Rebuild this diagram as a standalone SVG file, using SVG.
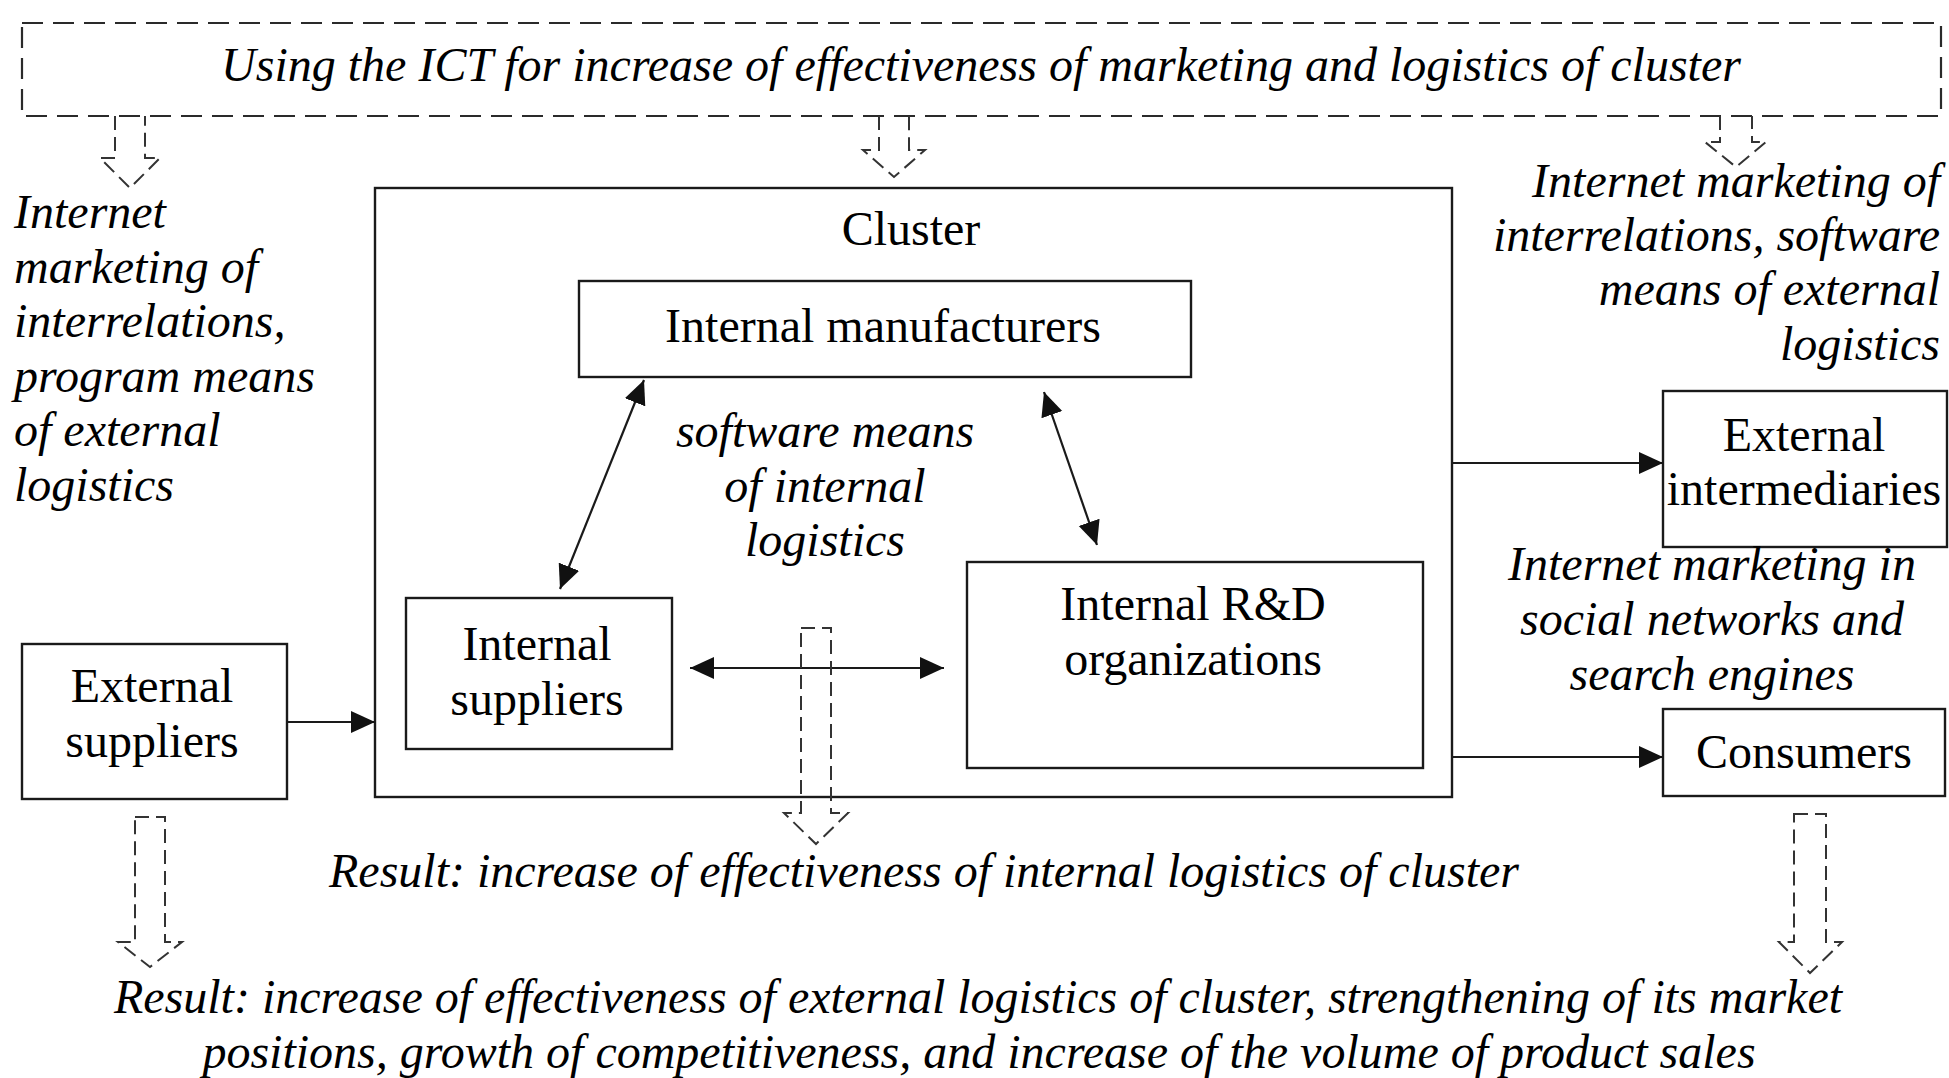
<svg xmlns="http://www.w3.org/2000/svg" width="1949" height="1078" viewBox="0 0 1949 1078">
  <style>
    .box { fill: #fff; stroke: #1a1a1a; stroke-width: 2.4; }
    .frame { fill: none; stroke: #1a1a1a; stroke-width: 2.4; }
    .dbox { fill: none; stroke: #2a2a2a; stroke-width: 2.2; stroke-dasharray: 21 10; }
    .dash-arrow { fill: none; stroke: #333; stroke-width: 2; stroke-dasharray: 14 7; stroke-linejoin: miter; }
    .link { fill: none; stroke: #1a1a1a; stroke-width: 2.2; }
    .up { font-family: "Liberation Serif", "Times New Roman", serif; font-size: 48px; fill: #000; }
    .it { font-family: "Liberation Serif", "Times New Roman", serif; font-size: 48px; font-style: italic; fill: #000; }
    .mid { text-anchor: middle; }
    .end { text-anchor: end; }
  </style>
  <defs>
    <marker id="head" markerUnits="userSpaceOnUse" markerWidth="24" markerHeight="24" refX="24" refY="12" orient="auto-start-reverse">
      <path d="M0,1 L24,12 L0,23 Z" fill="#111"/>
    </marker>
  </defs>

  <rect width="1949" height="1078" fill="#fff"/>

  <!-- ICT banner -->
  <g id="ict-banner">
    <rect class="dbox" x="22" y="23" width="1919" height="93"/>
    <text class="it mid" x="981" y="81">Using the ICT for increase of effectiveness of marketing and logistics of cluster</text>
  </g>

  <!-- cluster frame -->
  <g id="cluster">
    <rect class="frame" x="375" y="188" width="1077" height="609"/>
    <text class="up mid" x="911" y="245">Cluster</text>
  </g>

  <g id="internal-manufacturers">
    <rect class="box" x="579" y="281" width="612" height="96"/>
    <text class="up mid" x="883" y="342">Internal manufacturers</text>
  </g>

  <g id="internal-suppliers">
    <rect class="box" x="406" y="598" width="266" height="151"/>
    <text class="up mid" x="537" y="660">Internal</text>
    <text class="up mid" x="537" y="715">suppliers</text>
  </g>

  <g id="internal-rd">
    <rect class="box" x="967" y="562" width="456" height="206"/>
    <text class="up mid" x="1193" y="620">Internal R&amp;D</text>
    <text class="up mid" x="1193" y="675">organizations</text>
  </g>

  <g id="external-suppliers">
    <rect class="box" x="22" y="644" width="265" height="155"/>
    <text class="up mid" x="152" y="702">External</text>
    <text class="up mid" x="152" y="757">suppliers</text>
  </g>

  <g id="external-intermediaries">
    <rect class="box" x="1663" y="391" width="284" height="156"/>
    <text class="up mid" x="1804" y="451">External</text>
    <text class="up mid" x="1804" y="505">intermediaries</text>
  </g>

  <g id="consumers">
    <rect class="box" x="1663" y="709" width="282" height="87"/>
    <text class="up mid" x="1804" y="768">Consumers</text>
  </g>

  <!-- annotations -->
  <g id="note-left">
    <text class="it" x="14" y="228">Internet</text>
    <text class="it" x="14" y="283">marketing of</text>
    <text class="it" x="14" y="337">interrelations,</text>
    <text class="it" x="14" y="392">program means</text>
    <text class="it" x="14" y="446">of external</text>
    <text class="it" x="14" y="501">logistics</text>
  </g>

  <g id="note-right">
    <text class="it end" x="1940" y="197">Internet marketing of</text>
    <text class="it end" x="1940" y="251">interrelations, software</text>
    <text class="it end" x="1940" y="305">means of external</text>
    <text class="it end" x="1940" y="360">logistics</text>
  </g>

  <g id="note-internal">
    <text class="it mid" x="825" y="447">software means</text>
    <text class="it mid" x="825" y="502">of internal</text>
    <text class="it mid" x="825" y="556">logistics</text>
  </g>

  <g id="note-social">
    <text class="it mid" x="1712" y="580">Internet marketing in</text>
    <text class="it mid" x="1712" y="635">social networks and</text>
    <text class="it mid" x="1712" y="690">search engines</text>
  </g>

  <g id="result-internal">
    <text class="it mid" x="924" y="887">Result: increase of effectiveness of internal logistics of cluster</text>
  </g>

  <g id="result-external">
    <text class="it mid" x="978" y="1013">Result: increase of effectiveness of external logistics of cluster, strengthening of its market</text>
    <text class="it mid" x="979" y="1068">positions, growth of competitiveness, and increase of the volume of product sales</text>
  </g>

  <!-- connectors -->
  <g id="connectors">
    <line class="link" x1="287" y1="722" x2="375" y2="722" marker-end="url(#head)"/>
    <line class="link" x1="1452" y1="463" x2="1663" y2="463" marker-end="url(#head)"/>
    <line class="link" x1="1452" y1="757" x2="1663" y2="757" marker-end="url(#head)"/>
    <line class="link" x1="560" y1="589" x2="644" y2="380" marker-start="url(#head)" marker-end="url(#head)"/>
    <line class="link" x1="1044" y1="392" x2="1097" y2="545" marker-start="url(#head)" marker-end="url(#head)"/>
    <line class="link" x1="690" y1="668" x2="944" y2="668" marker-start="url(#head)" marker-end="url(#head)"/>

    <!-- hollow dashed arrows from the ICT banner -->
    <path class="dash-arrow" d="M115,116 L115,158 L100,158 L130,188 L160,158 L145,158 L145,116"/>
    <path class="dash-arrow" d="M879,116 L879,150 L863,150 L894,177 L925,150 L909,150 L909,116"/>
    <path class="dash-arrow" d="M1720,116 L1720,142 L1705,142 L1736,167 L1766,142 L1752,142 L1752,116"/>

    <!-- hollow dashed arrows towards the results -->
    <path class="dash-arrow" d="M135,817 L165,817 L165,942 L182,942 L150,967 L118,942 L135,942 Z"/>
    <path class="dash-arrow" d="M801,628 L831,628 L831,813 L848,813 L816,844 L784,813 L801,813 Z"/>
    <path class="dash-arrow" d="M1794,814 L1826,814 L1826,942 L1842,942 L1810,973 L1779,942 L1794,942 Z"/>
  </g>
</svg>
